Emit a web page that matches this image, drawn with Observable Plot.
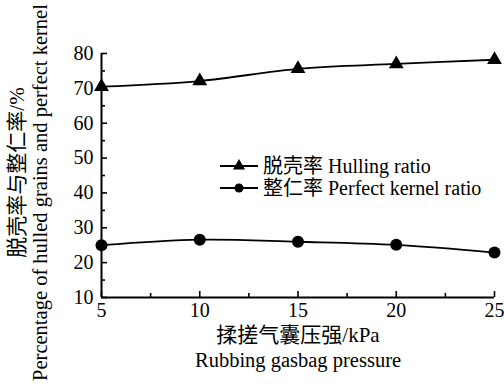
<!DOCTYPE html>
<html>
<head>
<meta charset="utf-8">
<script src="https://cdn.jsdelivr.net/npm/d3@7"></script>
<script src="https://cdn.jsdelivr.net/npm/@observablehq/plot@0.6"></script>
<style>
  body { margin: 0; background: #fff; }
  #chart { position: relative; width: 504px; height: 386px; font-family: "Liberation Serif", "Times New Roman", "Noto Sans CJK SC", serif; }
  #legend { position: absolute; left: 220px; top: 155px; font-size: 20px; color: #000; line-height: 22px; }
  #legend .row { display: flex; align-items: center; height: 22px; white-space: nowrap; }
  #legend svg { display: block; margin-right: 5px; }
</style>
</head>
<body>
<div id="chart"></div>
<script>
// Rubbing gasbag pressure (kPa)
const pressure = [5, 10, 15, 20, 25];
// Hulling ratio (%)
const hullingRatio = [70.5, 72.1, 75.6, 77.0, 78.2];
// Perfect kernel ratio (%)
const kernelRatio = [25.0, 26.6, 26.0, 25.1, 22.9];

const xTicks = [5, 10, 15, 20, 25];
const xMinorTicks = [7.5, 12.5, 17.5, 22.5];
const yTicks = [10, 20, 30, 40, 50, 60, 70, 80];
const yMinorTicks = [15, 25, 35, 45, 55, 65, 75];

const seriesNames = ["脱壳率 Hulling ratio", "整仁率 Perfect kernel ratio"];
const yTitle = ["脱壳率与整仁率/%", "Percentage of hulled grains and perfect kernel"];
const xTitle = ["揉搓气囊压强/kPa", "Rubbing gasbag pressure"];

const W = 504, H = 386;
const mL = 101, mR = 10, mT = 53, mB = 89;
const innerW = W - mL - mR, innerH = H - mT - mB;

const hull = pressure.map((p, i) => ({p, v: hullingRatio[i]}));
const kern = pressure.map((p, i) => ({p, v: kernelRatio[i]}));

const font = "'Liberation Serif', 'Times New Roman', 'Noto Sans CJK SC', serif";

const chart = Plot.plot({
  width: W,
  height: H,
  marginLeft: mL,
  marginRight: mR,
  marginTop: mT,
  marginBottom: mB,
  style: {fontFamily: font, fontSize: "20px", color: "#000", background: "#fff", overflow: "visible"},
  x: {domain: [5, 25]},
  y: {domain: [10, 80]},
  marks: [
    // tick labels
    Plot.axisX(xTicks, {tickSize: 0, tickPadding: 5, fontSize: 20, label: null}),
    Plot.axisY(yTicks, {tickSize: 0, tickPadding: 8, fontSize: 20, label: null}),
    // inward ticks
    Plot.tickY(yTicks, {y: d => d, insetRight: innerW - 6, stroke: "#000", strokeWidth: 1.6}),
    Plot.tickY(yMinorTicks, {y: d => d, insetRight: innerW - 4, stroke: "#000", strokeWidth: 1.6}),
    Plot.tickX(xTicks, {x: d => d, insetTop: innerH - 6, stroke: "#000", strokeWidth: 1.6}),
    Plot.tickX(xMinorTicks, {x: d => d, insetTop: innerH - 4, stroke: "#000", strokeWidth: 1.6}),
    // axis lines
    Plot.ruleX([5], {stroke: "#000", strokeWidth: 2}),
    Plot.ruleY([10], {stroke: "#000", strokeWidth: 2}),
    // series
    Plot.line(hull, {x: "p", y: "v", curve: "catmull-rom", stroke: "#000", strokeWidth: 1.8}),
    Plot.dot(hull, {x: "p", y: "v", symbol: "triangle", r: 5.5, fill: "#000", stroke: "none"}),
    Plot.line(kern, {x: "p", y: "v", curve: "catmull-rom", stroke: "#000", strokeWidth: 1.8}),
    Plot.dot(kern, {x: "p", y: "v", symbol: "circle", r: 6, fill: "#000", stroke: "none"}),
    // axis titles
    Plot.text([yTitle[0]], {text: d => d, frameAnchor: "left", textAnchor: "middle", rotate: -90, dx: -84, dy: -3, fontSize: 21}),
    Plot.text([yTitle[1]], {text: d => d, frameAnchor: "left", textAnchor: "middle", rotate: -90, dx: -61, dy: 17, fontSize: 20.5}),
    Plot.text([xTitle[0]], {text: d => d, frameAnchor: "bottom", dy: 44, fontSize: 21}),
    Plot.text([xTitle[1]], {text: d => d, frameAnchor: "bottom", dy: 69, fontSize: 20.5})
  ]
});

const root = document.getElementById("chart");
root.appendChild(chart);

// legend placed inside the plotting area
const legend = document.createElement("div");
legend.id = "legend";
const symbols = [d3.symbolTriangle, d3.symbolCircle];
const sizes = [Math.PI * 4.5 * 4.5, Math.PI * 4.5 * 4.5];
seriesNames.forEach((name, i) => {
  const row = document.createElement("div");
  row.className = "row";
  const sw = d3.create("svg").attr("width", 38).attr("height", 20);
  sw.append("line").attr("x1", 0).attr("x2", 38).attr("y1", 10).attr("y2", 10)
    .attr("stroke", "#000").attr("stroke-width", 2);
  sw.append("path").attr("transform", "translate(19,10)")
    .attr("d", d3.symbol(symbols[i], sizes[i])()).attr("fill", "#000");
  row.appendChild(sw.node());
  const label = document.createElement("span");
  label.textContent = name;
  row.appendChild(label);
  legend.appendChild(row);
});
root.appendChild(legend);
</script>
</body>
</html>
